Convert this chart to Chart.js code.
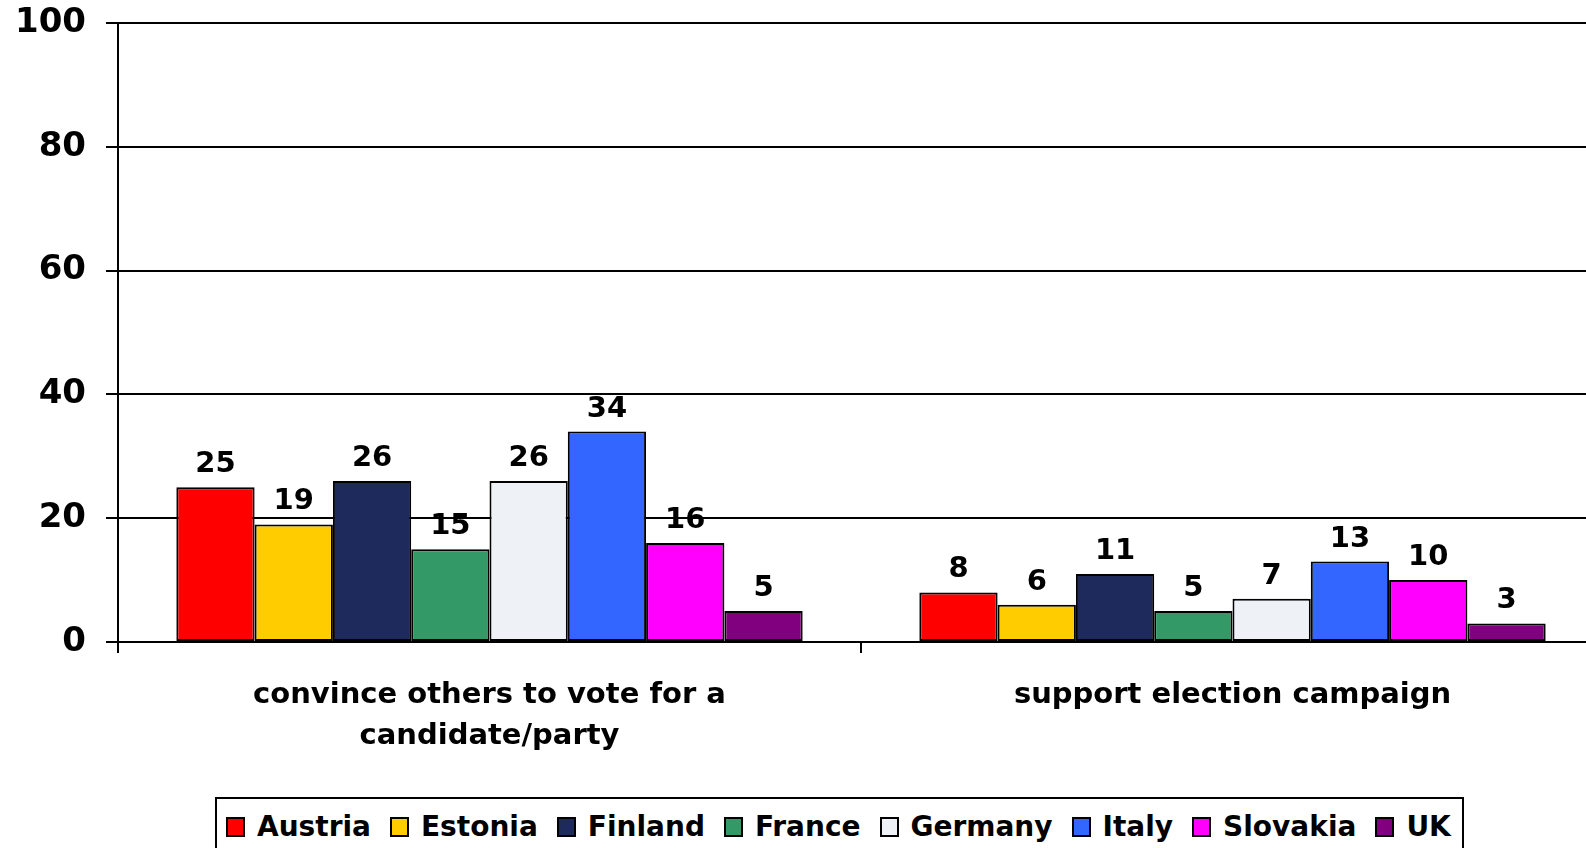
<!DOCTYPE html>
<html>
<head>
<meta charset="utf-8">
<script src="https://cdn.jsdelivr.net/npm/chart.js@4/dist/chart.umd.min.js"></script>
<style>
  html, body { margin: 0; padding: 0; background: #fff; overflow: hidden; }
  #wrap { position: relative; width: 1586px; height: 848px; overflow: hidden; }
  #chart { position: absolute; left: 0; top: 0; }
  #legend {
    position: absolute; left: 215px; top: 797px; width: 1249px; height: 80px;
    box-sizing: border-box; border: 2px solid #000; background: #fff;
    display: flex; align-items: flex-start; padding: 17px 0 0 9px;
    font: bold 28px "DejaVu Sans", Verdana, sans-serif; color: #000;
  }
  #legend .item { display: flex; align-items: center; margin-right: 19px; line-height: 22px; }
  #legend .sw { width: 15px; height: 16px; border: 2px solid #000; margin-right: 12px; }
</style>
</head>
<body>
<div id="wrap">
  <canvas id="chart" width="1604" height="848"></canvas>
  <div id="legend"></div>
</div>
<script>
// ── Datos ────────────────────────────────────────────────────────────────
const categories = [["convince others to vote for a", "candidate/party"], "support election campaign"];
const countries = ["Austria", "Estonia", "Finland", "France", "Germany", "Italy", "Slovakia", "UK"];
const convinceValues = [25, 19, 26, 15, 26, 34, 16, 5];
const supportValues = [8, 6, 11, 5, 7, 13, 10, 3];
const yTicks = [0, 20, 40, 60, 80, 100];

const COLORS = ["#ff0000", "#ffcc00", "#1f2a5c", "#339966", "#eef2f7", "#3366ff", "#ff00ff", "#800080"];
const FONT = '"DejaVu Sans", Verdana, sans-serif';

// Etiquetas de valor encima de cada barra.
const valueLabels = {
  id: "valueLabels",
  afterDatasetsDraw(chart) {
    const ctx = chart.ctx;
    ctx.save();
    ctx.font = `bold 29px ${FONT}`;
    ctx.fillStyle = "#000";
    ctx.textAlign = "center";
    ctx.textBaseline = "alphabetic";
    chart.data.datasets.forEach((ds, i) => {
      chart.getDatasetMeta(i).data.forEach((bar, j) => {
        ctx.fillText(String(ds.data[j]), bar.x, bar.y - 15);
      });
    });
    ctx.restore();
  },
};

const datasets = countries.map((name, i) => ({
  label: name,
  data: [convinceValues[i], supportValues[i]],
  backgroundColor: COLORS[i],
  borderColor: "#000",
  borderWidth: 2,
  borderSkipped: false,
}));

new Chart(document.getElementById("chart").getContext("2d"), {
  type: "bar",
  data: { labels: categories, datasets },
  options: {
    responsive: false,
    animation: false,
    categoryPercentage: 0.843,
    barPercentage: 1,
    layout: { padding: { top: 23, left: 0, right: 0, bottom: 0 } },
    plugins: { legend: { display: false }, tooltip: { enabled: false } },
    scales: {
      x: {
        afterFit: (s) => { s.height = 206; },
        border: { color: "#000", width: 2 },
        grid: { offset: true, drawOnChartArea: false, drawTicks: true, tickLength: 11, color: "#000", lineWidth: 2 },
        ticks: { color: "#000", padding: 22, maxRotation: 0, font: { family: FONT, size: 29, weight: "bold", lineHeight: 1.41 } },
      },
      y: {
        min: 0,
        max: 100,
        afterFit: (s) => { s.width = 118; s.paddingTop = 0; s.paddingBottom = 0; },
        afterBuildTicks: (s) => { s.ticks = yTicks.map((v) => ({ value: v })); },
        border: { color: "#000", width: 2 },
        grid: { color: "#000", lineWidth: 2, drawTicks: true, tickLength: 12 },
        ticks: { color: "#000", padding: 20, font: { family: FONT, size: 34, weight: "bold" } },
      },
    },
  },
  plugins: [valueLabels],
});

// Leyenda con recuadro (HTML).
const legend = document.getElementById("legend");
countries.forEach((name, i) => {
  const item = document.createElement("div");
  item.className = "item";
  const sw = document.createElement("span");
  sw.className = "sw";
  sw.style.background = COLORS[i];
  const txt = document.createElement("span");
  txt.textContent = name;
  item.appendChild(sw);
  item.appendChild(txt);
  legend.appendChild(item);
});
</script>
</body>
</html>
